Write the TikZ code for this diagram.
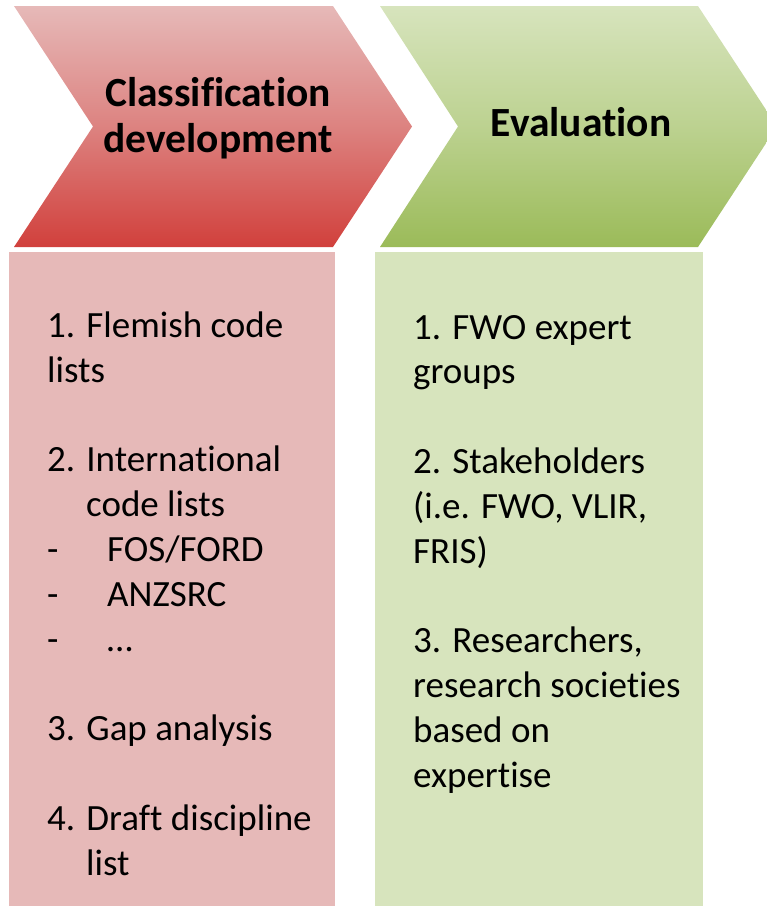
\documentclass[tikz,border=0pt]{standalone}
\usepackage{fontspec}
\setmainfont[Ligatures=NoCommon]{Carlito}
\definecolor{redlight}{RGB}{230,185,184}
\definecolor{reddark}{RGB}{209,64,60}
\definecolor{greenlight}{RGB}{215,228,189}
\definecolor{greendark}{RGB}{155,187,89}
\tikzset{
  titletext/.style={font=\fontsize{41.5}{46}\selectfont\bfseries, align=center, inner sep=0pt, text=black},
  bodytext/.style={font=\fontsize{37}{44.8}\selectfont, align=left, inner sep=0pt, text=black, anchor=base west},
}
\begin{document}
\begin{tikzpicture}[x=1pt,y=-1pt]
\useasboundingbox (0,0) rectangle (767,906);
% chevrons
\shade[top color=redlight, bottom color=reddark, middle color=redlight!55!reddark]
  (14,6) -- (333,6) -- (412,126.5) -- (333,247) -- (14,247) -- (93,126.5) -- cycle;
\shade[top color=greenlight, bottom color=greendark, middle color=greenlight!55!greendark]
  (380,6) -- (698,6) -- (777,126.5) -- (698,247) -- (380,247) -- (458,126.5) -- cycle;
% boxes
\fill[redlight] (9,252) rectangle (335,906);
\fill[greenlight] (375,252) rectangle (703,906);
% titles (base anchor = baseline of last line)
\node[titletext, anchor=base] (t1) at (218,152) {Classification\\development};
\node[titletext, anchor=base] (t2) at (581,136) {Evaluation};
% body (base anchor = baseline of last line)
\node[bodytext] (b1) at (47,875) {1. Flemish code\\lists\\[44.8pt]
2. International\\\hspace*{39pt}code lists\\
\makebox[60pt][l]{-}FOS/FORD\\
\makebox[60pt][l]{-}ANZSRC\\
\makebox[60pt][l]{-}…\\[44.8pt]
3. Gap analysis\\[44.8pt]
4. Draft discipline\\\hspace*{39pt}list};
\node[bodytext] (b2) at (413,787) {1. FWO expert\\groups\\[44.8pt]
2. Stakeholders\\(i.e. FWO, VLIR,\\FRIS)\\[44.8pt]
3. Researchers,\\research societies\\based on\\expertise};
\end{tikzpicture}
\end{document}
